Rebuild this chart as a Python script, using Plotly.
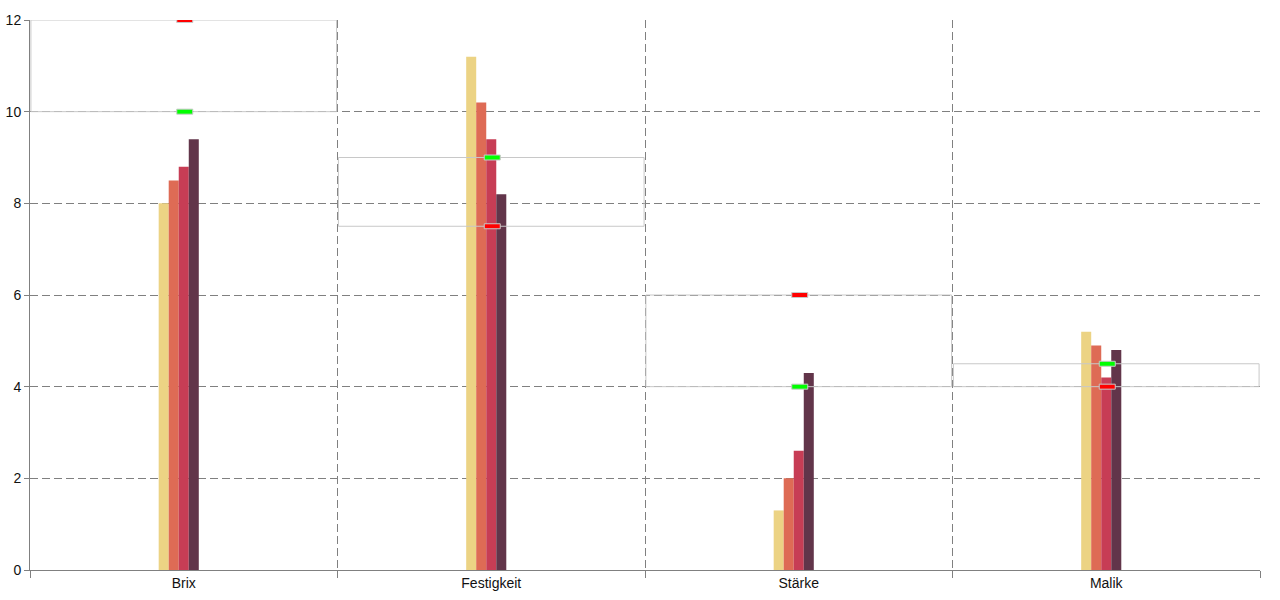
import plotly.graph_objects as go

categories = ["Brix", "Festigkeit", "Stärke", "Malik"]
series_values = [
    [8.0, 11.2, 1.3, 5.2],
    [8.5, 10.2, 2.0, 4.9],
    [8.8, 9.4, 2.6, 4.2],
    [9.4, 8.2, 4.3, 4.8],
    [0, 0, 0, 0],
]
series_colors = ["#ecd384", "#de6b55", "#c73d55", "#62354a", "#4f9c9c"]
green_marks = [10, 9, 4, 4.5]
red_marks = [12, 7.5, 6, 4]
range_low = [10, 7.5, 4, 4]
range_high = [12, 9, 6, 4.5]
y_ticks = [0, 2, 4, 6, 8, 10, 12]

fig = go.Figure()
for i, (vals, col) in enumerate(zip(series_values, series_colors)):
    fig.add_trace(go.Bar(x=categories, y=vals, marker=dict(color=col, line=dict(width=0)),
                         name=f"S{i+1}", showlegend=False, hoverinfo="y"))

shapes = []
for i in range(len(categories)):
    shapes.append(dict(type="rect", xref="x", yref="y", x0=i - 0.497, x1=i + 0.497,
                       y0=range_low[i], y1=range_high[i],
                       line=dict(color="#c8c8c8", width=1), fillcolor="rgba(0,0,0,0)", layer="above"))
for marks, col in ((green_marks, "#00ff00"), (red_marks, "#ff0000")):
    for i, v in enumerate(marks):
        shapes.append(dict(type="rect", xref="x", yref="y",
                           xsizemode="pixel", xanchor=i, x0=-7, x1=9,
                           ysizemode="pixel", yanchor=v, y0=-2.5, y1=2.5,
                           line=dict(color="#c8c8c8", width=1), fillcolor=col, layer="above"))

fig.update_layout(
    width=1280, height=600,
    margin=dict(l=30, r=20, t=20, b=30),
    plot_bgcolor="white", paper_bgcolor="white",
    barmode="group", bargap=0.837, bargroupgap=0,
    font=dict(family="Liberation Sans, Arial, sans-serif", size=14, color="#111111"),
    shapes=shapes,
    xaxis=dict(type="category", tickson="boundaries", showgrid=True, gridcolor="#808080",
               griddash="8px,4px", gridwidth=1, ticks="outside", ticklen=7, tickcolor="#808080",
               showline=True, linecolor="#808080", linewidth=1, zeroline=False,
               range=[-0.5, 3.5], automargin=False),
    yaxis=dict(range=[0, 12], tickvals=y_ticks, showgrid=True, gridcolor="#808080",
               griddash="8px,4px", gridwidth=1, ticks="outside", ticklen=5, tickcolor="#808080",
               showline=True, linecolor="#808080", linewidth=1, zeroline=False,
               automargin=False),
)
fig.write_html("out.html", config={"displayModeBar": False},
               post_script="document.body.style.margin='0';document.body.style.overflow='hidden';")
